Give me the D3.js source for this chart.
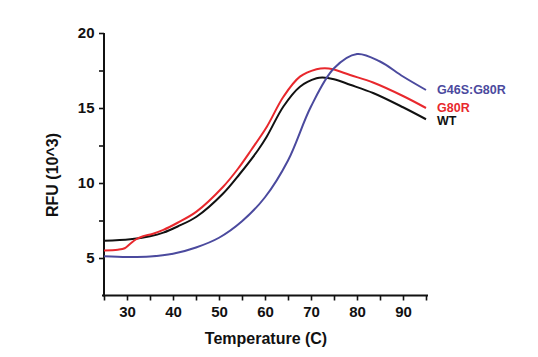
<!DOCTYPE html>
<html><head><meta charset="utf-8">
<script src="https://cdn.jsdelivr.net/npm/d3@7"></script>
<style>
html,body{margin:0;padding:0;background:#fff;}
svg{display:block;}
text{font-family:"Liberation Sans",Arial,sans-serif;font-weight:bold;}
</style></head>
<body>
<svg id="c" width="538" height="357"></svg>
<script>
const xTicks = [25,30,35,40,45,50,55,60,65,70,75,80,85,90,95];
const xLabels = [30,40,50,60,70,80,90];
const yTicks = [5,7.5,10,12.5,15,17.5,20];
const yLabels = [5,10,15,20];

const wtT   = [25,30.7,35,37.9,41,45.1,50.9,54.5,58.5,60.4,64,67.6,71.2,72.5,75,78.5,83.5,90,95];
const wtV   = [6.15,6.25,6.45,6.69,7.1,7.75,9.3,10.6,12.2,13.1,15.1,16.42,16.98,17.03,16.92,16.55,16.0,15.05,14.25];

const g80rT = [25,28,29.5,30.7,32,33.5,35.5,37.9,41,45.1,50.9,54,57,60.4,64,67.6,71.2,73,74.8,78.5,83.5,90,95];
const g80rV = [5.5,5.55,5.65,5.95,6.25,6.45,6.6,6.87,7.35,8.09,9.75,10.9,12.2,13.75,15.75,17.09,17.58,17.65,17.58,17.2,16.7,15.8,15.0];

const dblT  = [25,30,35,40,45,50,55,60,65,70,75,80,85,90,95];
const dblV  = [5.12,5.07,5.1,5.28,5.7,6.35,7.45,9.05,11.5,15.1,17.65,18.6,18.1,17.1,16.2];

const seriesNames = ["G46S:G80R","G80R","WT"];
const seriesColors = ["#4b4a9e","#e8282d","#111111"];

const svg = d3.select("#c");
const x = d3.scaleLinear().domain([25,95]).range([104,426]);
const y = d3.scaleLinear().domain([2.5,20]).range([295.5,33]);

// axes
const xAxis = d3.axisBottom(x).tickValues(xTicks).tickSize(5).tickSizeOuter(0)
  .tickFormat(d => xLabels.includes(d) ? d : "");
const gx = svg.append("g").attr("transform","translate(0,295.5)").call(xAxis);
gx.select(".domain").attr("d","M102,0H428").attr("stroke","#111").attr("stroke-width",2);
gx.selectAll(".tick line").attr("stroke","#111").attr("stroke-width",1.6);
gx.selectAll(".tick text").attr("font-size",15).attr("fill","#111").attr("dy","0.9em");

const yAxis = d3.axisLeft(y).tickValues(yTicks).tickSize(5).tickSizeOuter(0)
  .tickFormat(d => yLabels.includes(d) ? d : "");
const gy = svg.append("g").attr("transform","translate(104,0)").call(yAxis);
gy.select(".domain").attr("d","M0,33V296.5").attr("stroke","#111").attr("stroke-width",2);
gy.selectAll(".tick line").attr("stroke","#111").attr("stroke-width",1.6);
gy.selectAll(".tick text").attr("font-size",15).attr("fill","#111").attr("dx","-0.1em");

// titles
svg.append("text").attr("x",266).attr("y",344).attr("text-anchor","middle")
  .attr("font-size",16).attr("fill","#111").text("Temperature (C)");
svg.append("text").attr("transform","translate(58,175) rotate(-90)").attr("text-anchor","middle")
  .attr("font-size",16).attr("fill","#111").text("RFU (10^3)");

// lines
const line = d3.line().x(d=>x(d[0])).y(d=>y(d[1])).curve(d3.curveCatmullRom.alpha(0.5));
const data = [d3.zip(dblT,dblV), d3.zip(g80rT,g80rV), d3.zip(wtT,wtV)];
// draw order: WT, G80R, blue on top
[2,1,0].forEach(i=>{
  svg.append("path").datum(data[i]).attr("fill","none")
    .attr("stroke",seriesColors[i]).attr("stroke-width",2).attr("d",line);
});

// labels
const labelY = [89.5,107.5,121];
seriesNames.forEach((n,i)=>{
  svg.append("text").attr("x",437).attr("y",labelY[i]).attr("dy","0.35em")
    .attr("font-size",12.5).attr("fill",seriesColors[i]).text(n);
});
</script>
</body></html>
